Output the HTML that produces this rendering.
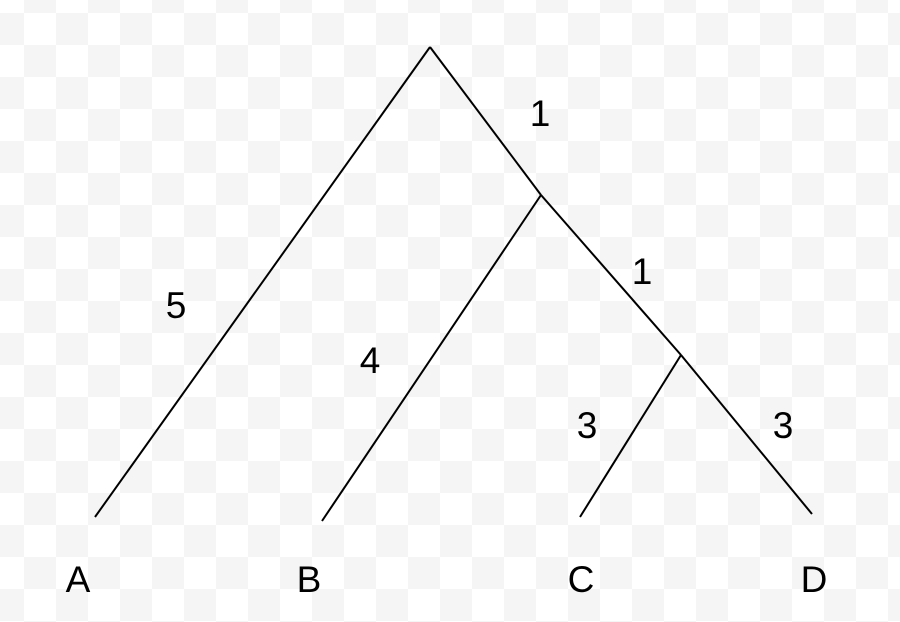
<!DOCTYPE html>
<html><head><meta charset="utf-8"><style>
html,body{margin:0;padding:0;}
body{width:900px;height:622px;overflow:hidden;
background-color:#fff;
background-image:conic-gradient(#f5f5f5 0 25%,#fff 0 50%,#f5f5f5 0 75%,#fff 0);
background-size:64px 64px;background-position:24px 13px;}
svg{position:absolute;left:0;top:0;}
text{font-family:"Liberation Sans",sans-serif;font-size:37px;fill:#000;}
</style></head><body>
<svg id="tree" width="900" height="622"></svg>
<script>
const leafNames = ["A","B","C","D"];
const branchLengths = [5,4,1,1,3,3];
const branchLabels = ["5","4","1","1","3","3"];
// layout (not data): node positions
const P = {root:[430,47], n1:[541,195], n2:[681,355], A:[95,517], B:[322,521], C:[580,517], D:[812,514]};
const edges = [["root","A"],["n1","B"],["root","n1"],["n1","n2"],["n2","C"],["n2","D"]];
const labelPos = [[176,318],[370,373],[540,126],[642,284],[587,438],[783,438]];
const leafPos = [[78,592],[309,592],[581,592],[814,592]];
const svg = document.getElementById('tree');
const NS = "http://www.w3.org/2000/svg";
edges.forEach((e,i)=>{
  const l=document.createElementNS(NS,'line');
  l.setAttribute('x1',P[e[0]][0]);l.setAttribute('y1',P[e[0]][1]);
  l.setAttribute('x2',P[e[1]][0]);l.setAttribute('y2',P[e[1]][1]);
  l.setAttribute('stroke','#000');l.setAttribute('stroke-width','2');
  
  
  svg.appendChild(l);
  const t=document.createElementNS(NS,'text');
  t.setAttribute('x',labelPos[i][0]);t.setAttribute('y',labelPos[i][1]);
  t.setAttribute('text-anchor','middle');
  t.textContent=branchLabels[i];
  
  
  svg.appendChild(t);
});
leafNames.forEach((n,i)=>{
  const t=document.createElementNS(NS,'text');
  t.setAttribute('x',leafPos[i][0]);t.setAttribute('y',leafPos[i][1]);
  t.setAttribute('text-anchor','middle');
  t.textContent=n;
  
  
  svg.appendChild(t);
});
</script>
</body></html>
